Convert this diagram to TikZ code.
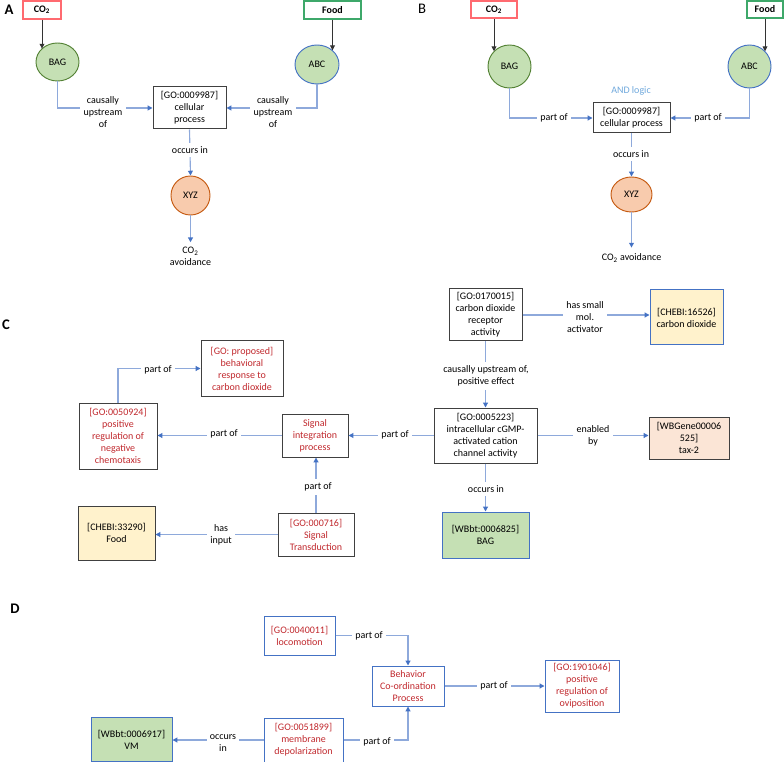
\documentclass[tikz,border=0pt]{standalone}
\usepackage{fontspec}
\setmainfont{Carlito}
\usetikzlibrary{arrows.meta,shapes.geometric}
\definecolor{ln}{HTML}{8EA9DB}
\definecolor{tip}{HTML}{4472C4}
\definecolor{bx}{HTML}{404040}
\definecolor{bbx}{HTML}{4472C4}
\definecolor{rtx}{HTML}{C0282D}
\definecolor{gfill}{HTML}{C5E0B4}
\definecolor{gbord}{HTML}{548235}
\definecolor{ofill}{HTML}{F8CBAD}
\definecolor{obord}{HTML}{C55A11}
\definecolor{yfill}{HTML}{FFF2CC}
\definecolor{pfill}{HTML}{FBE5D6}
\definecolor{co2bd}{HTML}{FF6A70}
\definecolor{foodbd}{HTML}{3EA86A}
\definecolor{andc}{HTML}{6FA8DC}
\tikzset{
  box/.style={draw=bx, line width=0.75pt, rectangle},
  bbox/.style={draw=bbx, line width=0.75pt, rectangle},
  rtxt/.style={text=rtx},
  ell/.style={ellipse, line width=0.7pt},
  panel/.style={font=\fontsize{11}{13}\selectfont\bfseries},
  conn/.style={draw=ln, line width=0.85pt, -{Triangle[width=3.6pt,length=3.6pt,color=tip]}},
  blk/.style={draw=black!80, line width=0.6pt, -{Triangle[width=3.6pt,length=3.6pt]}},
  lbl/.style={fill=white, inner sep=2.5pt},
  srcbox/.style={line width=0.95pt, font=\fontsize{7.5}{9}\selectfont\bfseries},
}
\begin{document}
\begin{tikzpicture}[x=0.75pt,y=-0.75pt,
  every node/.style={font=\fontsize{7.5}{9}\selectfont, inner sep=0pt, align=center}]
\useasboundingbox (0,0) rectangle (784,762);

% ---------------- Panel A ----------------
\node[panel] (labA) at (9,10) {A};
\node[srcbox, draw=co2bd, minimum width=38*0.75pt, minimum height=18*0.75pt] (co2A) at (42,10) {CO\textsubscript{2}};
\node[srcbox, draw=foodbd, minimum width=57*0.75pt, minimum height=18*0.75pt] (foodA) at (332.5,10) {Food};
\node[ell, draw=gbord, fill=gfill, minimum width=43*0.75pt, minimum height=38*0.75pt] (bagA) at (57.5,62) {BAG};
\node[ell, draw=bbx, fill=gfill, minimum width=44*0.75pt, minimum height=39*0.75pt] (abcA) at (317,64.5) {ABC};
\node[box, minimum width=73*0.75pt, minimum height=42*0.75pt] (goA) at (189.5,108) {[GO:0009987]\\cellular\\process};
\node[ell, draw=obord, fill=ofill, minimum width=39*0.75pt, minimum height=39*0.75pt] (xyzA) at (190.5,195.5) {XYZ};
\node (avoidA) at (190.5,256.5) {CO\textsubscript{2}\\avoidance};

\draw[blk] (co2A.south) -- (co2A.south |- bagA.140);
\draw[blk] (foodA.south) -- (foodA.south |- abcA.42);
\draw[conn] (bagA.south) |- (goA.west);
\draw[conn] (abcA.south) |- (goA.east);
\draw[conn] (goA.south) -- (xyzA.north);
\draw[conn] (xyzA.south) -- ([yshift=3.5pt]avoidA.north);
\node[lbl] (lA1) at (103,112) {causally\\upstream\\of};
\node[lbl] (lA2) at (273,112) {causally\\upstream\\of};
\node[lbl] (lA3) at (190,150) {occurs in};

% ---------------- Panel B ----------------
\node[font=\fontsize{11}{13}\selectfont] (labB) at (422,9) {B};
\node[srcbox, draw=co2bd, minimum width=46*0.75pt, minimum height=17*0.75pt] (co2B) at (494,9.5) {CO\textsubscript{2}};
\node[srcbox, draw=foodbd, minimum width=36*0.75pt, minimum height=17*0.75pt] (foodB) at (765,9.5) {Food};
\node[ell, draw=gbord, fill=gfill, minimum width=43*0.75pt, minimum height=43*0.75pt] (bagB) at (509.5,66.5) {BAG};
\node[ell, draw=bbx, fill=gfill, minimum width=43*0.75pt, minimum height=43*0.75pt] (abcB) at (749.5,66.5) {ABC};
\node[text=andc] (andB) at (631,91) {AND logic};
\node[box, minimum width=77*0.75pt, minimum height=30*0.75pt] (goB) at (631.5,118) {[GO:0009987]\\cellular process};
\node[ell, draw=obord, fill=ofill, minimum width=41*0.75pt, minimum height=35*0.75pt] (xyzB) at (631.5,194.5) {XYZ};
\node (avoidB) at (631.5,258) {CO\textsubscript{2} avoidance};

\draw[blk] (co2B.south) -- (co2B.south |- bagB.136);
\draw[blk] (foodB.south) -- (foodB.south |- abcB.44);
\draw[conn] (bagB.south) |- (goB.west);
\draw[conn] (abcB.south) |- (goB.east);
\draw[conn] (goB.south) -- (xyzB.north);
\draw[conn] (xyzB.south) -- ([yshift=4.5pt]avoidB.north);
\node[lbl] (lB1) at (554,118) {part of};
\node[lbl] (lB2) at (708,118) {part of};
\node[lbl] (lB3) at (631,154) {occurs in};

% ---------------- Panel C ----------------
\node[panel] (labC) at (6,325) {C};
\node[box, rtxt, minimum width=82*0.75pt, minimum height=55*0.75pt] (propC) at (242,368.5) {[GO: proposed]\\behavioral\\response to\\carbon dioxide};
\node[box, rtxt, minimum width=78*0.75pt, minimum height=66*0.75pt] (negC) at (118,436) {[GO:0050924]\\positive\\regulation of\\negative\\chemotaxis};
\node[box, rtxt, minimum width=66*0.75pt, minimum height=43*0.75pt] (sigC) at (315,435.5) {Signal\\integration\\process};
\node[box, rtxt, minimum width=76*0.75pt, minimum height=43*0.75pt] (stC) at (316,534.5) {[GO:000716]\\Signal\\Transduction};
\node[box, fill=yfill, minimum width=77*0.75pt, minimum height=54*0.75pt] (foodC) at (116.5,533) {[CHEBI:33290]\\Food};
\node[box, minimum width=73*0.75pt, minimum height=52*0.75pt] (recC) at (485.5,315) {[GO:0170015]\\carbon dioxide\\receptor\\activity};
\node[bbox, fill=yfill, minimum width=73*0.75pt, minimum height=55*0.75pt] (co2C) at (686.5,317.5) {[CHEBI:16526]\\carbon dioxide};
\node[box, minimum width=103*0.75pt, minimum height=55*0.75pt] (chanC) at (485.5,435.5) {[GO:0005223]\\intracellular cGMP-\\activated cation\\channel activity};
\node[box, fill=pfill, minimum width=80*0.75pt, minimum height=42*0.75pt] (taxC) at (689,438) {[WBGene00006\\525]\\tax-2};
\node[bbox, fill=gfill, minimum width=87*0.75pt, minimum height=46*0.75pt] (bagC) at (485.5,535) {[WBbt:0006825]\\BAG};

\draw[conn] (negC.north) |- (propC.west);
\draw[conn] (sigC.west) -- (sigC.west -| negC.east);
\draw[conn] (stC.north) -- (stC.north |- sigC.south);
\draw[conn] (stC.west) -- (stC.west -| foodC.east);
\draw[conn] (chanC.west) -- (chanC.west -| sigC.east);
\draw[conn] (recC.east) -- (recC.east -| co2C.west);
\draw[conn] (recC.south) -- (chanC.north);
\draw[conn] (chanC.east) -- (chanC.east -| taxC.west);
\draw[conn] (chanC.south) -- (bagC.north);
\node[lbl] (lC1) at (158,370) {part of};
\node[lbl] (lC2) at (224,434) {part of};
\node[lbl] (lC3) at (318,487) {part of};
\node[lbl] (lC4) at (221,535) {has\\input};
\node[lbl] (lC5) at (395,435) {part of};
\node[lbl] (lC6) at (585,317) {has small\\mol.\\activator};
\node[lbl] (lC7) at (486,376) {causally upstream of,\\positive effect};
\node[lbl] (lC8) at (593,436) {enabled\\by};
\node[lbl] (lC9) at (486,489) {occurs in};

% ---------------- Panel D ----------------
\node[panel] (labD) at (15,609) {D};
\node[bbox, fill=gfill, minimum width=81*0.75pt, minimum height=44*0.75pt] (vmD) at (131.5,739.5) {[WBbt:0006917]\\VM};
\node[bbox, rtxt, minimum width=79*0.75pt, minimum height=44*0.75pt] (memD) at (303.5,740) {[GO:0051899]\\membrane\\depolarization};
\node[bbox, rtxt, minimum width=71*0.75pt, minimum height=39*0.75pt] (locD) at (299.5,635.5) {[GO:0040011]\\locomotion};
\node[bbox, rtxt, minimum width=72*0.75pt, minimum height=40*0.75pt] (behD) at (408,686) {Behavior\\Co-ordination\\Process};
\node[bbox, rtxt, minimum width=74*0.75pt, minimum height=52*0.75pt] (ovD) at (582,686) {[GO:1901046]\\positive\\regulation of\\oviposition};

\draw[conn] (locD.east) -| (behD.north);
\draw[conn] (memD.east) -| (behD.south);
\draw[conn] (memD.west) -- (memD.west -| vmD.east);
\draw[conn] (behD.east) -- (ovD.west);
\node[lbl] (lD1) at (369,636) {part of};
\node[lbl] (lD2) at (377,742) {part of};
\node[lbl] (lD3) at (223,743) {occurs\\in};
\node[lbl] (lD4) at (494,686) {part of};
\end{tikzpicture}
\end{document}
